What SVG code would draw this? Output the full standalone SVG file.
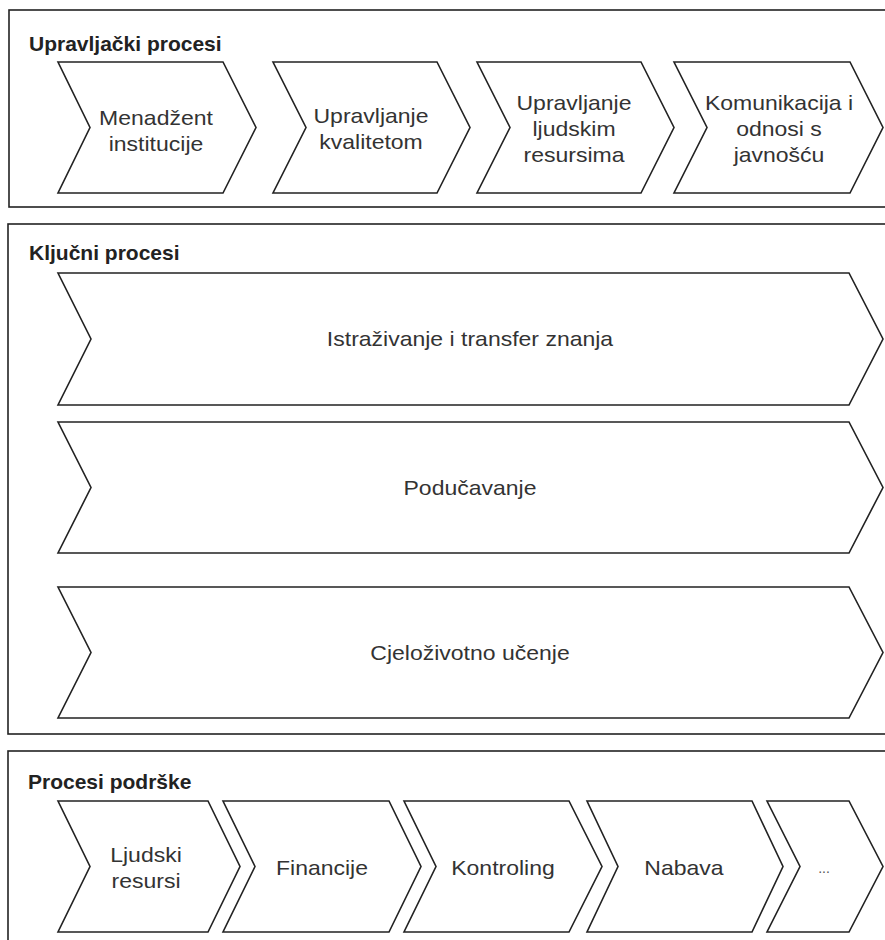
<svg xmlns="http://www.w3.org/2000/svg" width="885" height="940" viewBox="0 0 885 940">
<style>
.box{fill:#ffffff;stroke:#222222;stroke-width:1.6}
.chev{fill:#ffffff;stroke:#222222;stroke-width:1.6;stroke-linejoin:miter}
.title{font-family:"Liberation Sans",Arial,sans-serif;font-weight:bold;font-size:21px;fill:#222222}
.t{font-family:"Liberation Sans",Arial,sans-serif;font-size:20px;fill:#333333;text-anchor:middle}
.dots{font-family:"Liberation Sans",Arial,sans-serif;font-size:14px;fill:#555555;text-anchor:middle}
</style>
<rect width="885" height="940" fill="#ffffff"/>

<g id="upravljacki">
  <rect class="box" x="9" y="10" width="900" height="197"/>
  <text class="title" x="29" y="51">Upravljački procesi</text>
</g>
<g id="menadzment">
  <polygon class="chev" points="58,62 223,62 256,127.5 223,193 58,193 90,127.5"/>
  <text class="t" transform="translate(156,125) scale(1.15,1)" x="0" y="0">Menadžent</text>
  <text class="t" transform="translate(156,151) scale(1.15,1)" x="0" y="0">institucije</text>
</g>
<g id="kvaliteta">
  <polygon class="chev" points="273,62 437,62 470,127.5 437,193 273,193 306,127.5"/>
  <text class="t" transform="translate(371,123) scale(1.15,1)" x="0" y="0">Upravljanje</text>
  <text class="t" transform="translate(371,149) scale(1.15,1)" x="0" y="0">kvalitetom</text>
</g>
<g id="ljudski-resursi-upr">
  <polygon class="chev" points="477,62 641,62 674,127.5 641,193 477,193 510,127.5"/>
  <text class="t" transform="translate(574,110) scale(1.15,1)" x="0" y="0">Upravljanje</text>
  <text class="t" transform="translate(574,136) scale(1.15,1)" x="0" y="0">ljudskim</text>
  <text class="t" transform="translate(574,162) scale(1.15,1)" x="0" y="0">resursima</text>
</g>
<g id="komunikacija">
  <polygon class="chev" points="674,62 850,62 883,127.5 850,193 674,193 707,127.5"/>
  <text class="t" transform="translate(779,110) scale(1.15,1)" x="0" y="0">Komunikacija i</text>
  <text class="t" transform="translate(779,136) scale(1.15,1)" x="0" y="0">odnosi s</text>
  <text class="t" transform="translate(779,162) scale(1.15,1)" x="0" y="0">javnošću</text>
</g>

<g id="kljucni">
  <rect class="box" x="8" y="224" width="900" height="510"/>
  <text class="title" x="29" y="260">Ključni procesi</text>
</g>
<g id="istrazivanje">
  <polygon class="chev" points="58,273 849,273 883,339 849,405 58,405 91,339"/>
  <text class="t" transform="translate(470,346) scale(1.15,1)" x="0" y="0">Istraživanje i transfer znanja</text>
</g>
<g id="poducavanje">
  <polygon class="chev" points="58,422 849,422 883,487.5 849,553 58,553 91,487.5"/>
  <text class="t" transform="translate(470,495) scale(1.15,1)" x="0" y="0">Podučavanje</text>
</g>
<g id="cjelozivotno">
  <polygon class="chev" points="58,587 849,587 883,652.5 849,718 58,718 91,652.5"/>
  <text class="t" transform="translate(470,660) scale(1.15,1)" x="0" y="0">Cjeloživotno učenje</text>
</g>

<g id="podrska">
  <rect class="box" x="8" y="751" width="900" height="210"/>
  <text class="title" x="28" y="789">Procesi podrške</text>
</g>
<g id="ljudski-resursi">
  <polygon class="chev" points="58,801 208,801 240,866.5 208,932 58,932 90,866.5"/>
  <text class="t" transform="translate(146,862) scale(1.15,1)" x="0" y="0">Ljudski</text>
  <text class="t" transform="translate(146,888) scale(1.15,1)" x="0" y="0">resursi</text>
</g>
<g id="financije">
  <polygon class="chev" points="223,801 389,801 421,866.5 389,932 223,932 255,866.5"/>
  <text class="t" transform="translate(322,875) scale(1.15,1)" x="0" y="0">Financije</text>
</g>
<g id="kontroling">
  <polygon class="chev" points="404,801 569,801 602,866.5 569,932 404,932 436,866.5"/>
  <text class="t" transform="translate(503,875) scale(1.15,1)" x="0" y="0">Kontroling</text>
</g>
<g id="nabava">
  <polygon class="chev" points="587,801 752,801 783,866.5 752,932 587,932 618,866.5"/>
  <text class="t" transform="translate(684,875) scale(1.15,1)" x="0" y="0">Nabava</text>
</g>
<g id="ostalo">
  <polygon class="chev" points="767,801 849,801 883,866.5 849,932 767,932 800,866.5"/>
  <text class="dots" x="824" y="873">...</text>
</g>

<g id="connectors"></g>
</svg>
